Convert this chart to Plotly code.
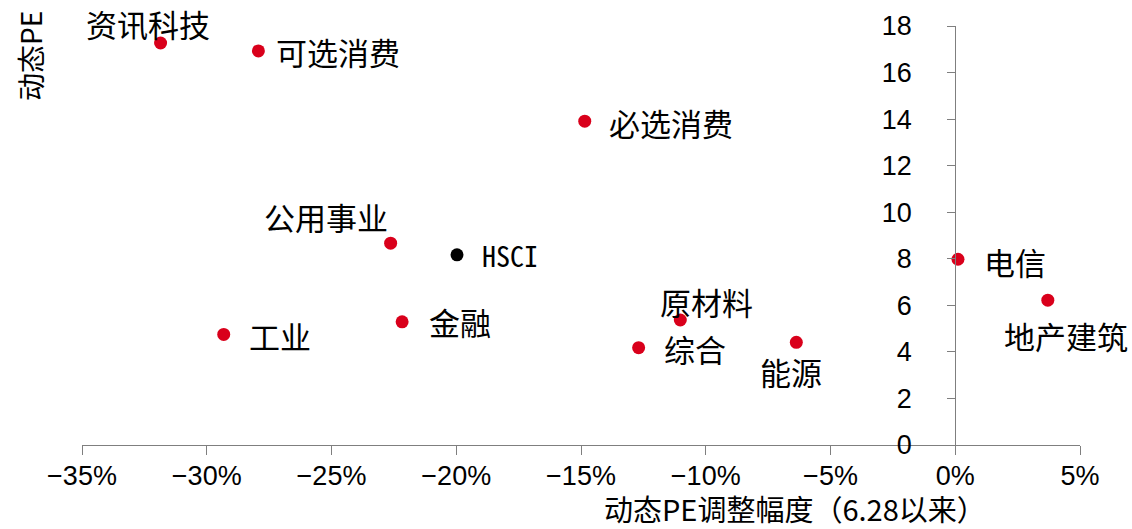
import plotly.graph_objects as go

# Sector valuation: PE change since 6.28 (fraction) vs. current dynamic PE
sectors = ["资讯科技", "可选消费", "必选消费", "公用事业", "电信", "地产建筑",
           "工业", "金融", "原材料", "综合", "能源"]
pe_change = [-0.3185, -0.2793, -0.1485, -0.2263, 0.0011, 0.0371,
             -0.2932, -0.2217, -0.1102, -0.1269, -0.0637]
pe_value = [17.27, 16.93, 13.91, 8.67, 7.98, 6.22,
            4.75, 5.29, 5.37, 4.18, 4.41]

index_name = ["HSCI"]
index_change = [-0.1997]
index_pe = [8.17]

# label placement (xanchor, yanchor, xshift, yshift) per sector
label_pos = {
    "资讯科技": ("center", "middle", -13, 19),
    "可选消费": ("left", "middle", 16, -1),
    "必选消费": ("left", "middle", 22, -1),
    "公用事业": ("center", "middle", -65, 27),
    "电信": ("left", "middle", 24, -2),
    "地产建筑": ("center", "middle", 18, -35),
    "工业": ("left", "middle", 23, -1),
    "金融": ("left", "middle", 25, 0),
    "原材料": ("center", "middle", 26, 19),
    "综合": ("left", "middle", 23, -1),
    "能源": ("center", "middle", -5, -29),
}

RED = "#D9001B"
CJK = "Noto Sans CJK SC, Noto Sans CJK JP, sans-serif"
AXIS_COLOR = "#7f7f7f"

fig = go.Figure()
fig.add_trace(go.Scatter(
    x=pe_change, y=pe_value, mode="markers",
    marker=dict(size=13, color=RED, line=dict(width=0)),
    hoverinfo="skip", showlegend=False,
))
fig.add_trace(go.Scatter(
    x=index_change, y=index_pe, mode="markers",
    marker=dict(size=13, color="#000000", line=dict(width=0)),
    hoverinfo="skip", showlegend=False,
))

annotations = []
for name, xv, yv in zip(sectors, pe_change, pe_value):
    xa, ya, xs, ys = label_pos[name]
    annotations.append(dict(
        x=xv, y=yv, xref="x", yref="y", text=name, showarrow=False,
        xanchor=xa, yanchor=ya, xshift=xs, yshift=ys,
        font=dict(family=CJK, size=31, color="#000000"),
    ))
for name, xv, yv in zip(index_name, index_change, index_pe):
    annotations.append(dict(
        x=xv, y=yv, xref="x", yref="y", text=name, showarrow=False,
        xanchor="left", yanchor="middle", xshift=23, yshift=0,
        font=dict(family="Noto Sans Mono CJK SC, Liberation Mono, monospace",
                  size=28, color="#000000"),
    ))

# axis titles (pixel positions, converted to paper fractions below)
annotations.append(dict(
    x=30, y=56, xref="paper", yref="paper", text="动态PE", showarrow=False,
    xanchor="center", yanchor="middle",
    textangle=-90, font=dict(family=CJK, size=28, color="#000000"),
))
annotations.append(dict(
    x=795, y=508, xref="paper", yref="paper",
    xanchor="center", yanchor="middle", borderpad=0,
    text="动态PE调整幅度（6.28以来）", showarrow=False,
    font=dict(family=CJK, size=29, color="#000000"),
))

# plot area geometry in pixels
W, H = 1132, 529
L, R, T, B = 82, 52, 26, 84
pw, ph = W - L - R, H - T - B


def to_paper(a):
    if a["xref"] == "paper":
        a["x"] = (a["x"] - L) / pw
        a["y"] = 1 - (a["y"] - T) / ph
    return a


annotations = [to_paper(a) for a in annotations]

fig.update_layout(
    width=W, height=H,
    margin=dict(l=L, r=R, t=T, b=B, pad=0),
    paper_bgcolor="white", plot_bgcolor="white",
    annotations=annotations,
    xaxis=dict(
        range=[-0.35, 0.05], tickvals=[-0.35, -0.30, -0.25, -0.20, -0.15, -0.10, -0.05, 0, 0.05],
        tickformat=".0%", showgrid=False, zeroline=False,
        showline=True, linecolor=AXIS_COLOR, linewidth=1,
        ticks="outside", ticklen=9, tickcolor=AXIS_COLOR, tickwidth=1,
        tickfont=dict(family="Liberation Sans Narrow, Arial Narrow, Liberation Sans", size=27, color="#000000"),
        ticklabelstandoff=-2,
        anchor="y",
    ),
    yaxis=dict(
        range=[0, 18], tickvals=list(range(0, 19, 2)),
        showgrid=False, zeroline=False,
        showline=True, linecolor=AXIS_COLOR, linewidth=1,
        ticks="outside", ticklen=8, tickcolor=AXIS_COLOR, tickwidth=1,
        tickfont=dict(family="Liberation Sans, Arial", size=27, color="#000000"),
        anchor="free", position=0.875, ticklabelstandoff=30,
    ),
)

fig.write_html("out.html")
